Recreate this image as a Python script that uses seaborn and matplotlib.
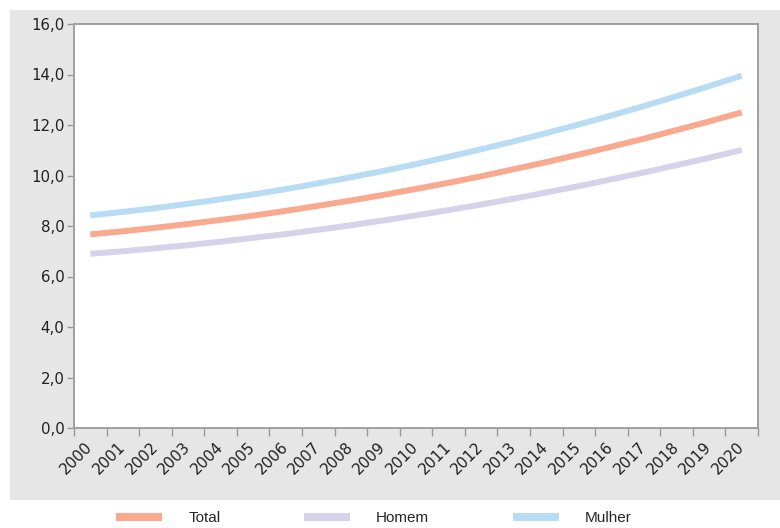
import numpy as np
import pandas as pd
import matplotlib
matplotlib.use("Agg")
import matplotlib.pyplot as plt
from matplotlib import font_manager
from matplotlib.patches import Rectangle
from matplotlib.lines import Line2D
import seaborn as sns

years = [str(y) for y in range(2000, 2021)]
total = [7.67, 7.79, 7.93, 8.08, 8.24, 8.41, 8.60, 8.80, 9.01, 9.23, 9.47,
         9.71, 9.97, 10.25, 10.53, 10.83, 11.14, 11.46, 11.80, 12.14, 12.50]
homem = [6.90, 7.00, 7.12, 7.24, 7.38, 7.53, 7.68, 7.85, 8.03, 8.22, 8.42,
         8.63, 8.85, 9.08, 9.33, 9.58, 9.85, 10.12, 10.41, 10.70, 11.01]
mulher = [8.42, 8.56, 8.71, 8.88, 9.06, 9.25, 9.46, 9.69, 9.93, 10.18, 10.45,
          10.74, 11.04, 11.35, 11.68, 12.02, 12.38, 12.75, 13.14, 13.54, 13.95]
series_names = ["Total", "Homem", "Mulher"]
colors = {"Total": "#F9A98E", "Homem": "#D6D2EA", "Mulher": "#B8DCF3"}
yticks = [0, 2, 4, 6, 8, 10, 12, 14, 16]
ytick_labels = ["0,0", "2,0", "4,0", "6,0", "8,0", "10,0", "12,0", "14,0", "16,0"]

sns.set_theme(style="white")
plt.rcParams["font.family"] = ["DejaVu Sans"]

avail = {f.name for f in font_manager.fontManager.ttflist}
legend_family = "Liberation Sans Narrow" if "Liberation Sans Narrow" in avail else "Liberation Sans"

rows = []
for name, vals in zip(series_names, [total, homem, mulher]):
    for i, v in enumerate(vals):
        rows.append({"idx": i, "ano": years[i], "valor": v, "serie": name})
df = pd.DataFrame(rows)

W, H = 780, 528
fig = plt.figure(figsize=(W / 100, H / 100), dpi=100, facecolor="white")
# gray panel
fig.patches.append(Rectangle((10 / W, 1 - 500 / H), 770 / W, 490 / H,
                             transform=fig.transFigure, facecolor="#E6E6E6",
                             edgecolor="none", zorder=-10))
ax = fig.add_axes([74 / W, 1 - 428 / H, (758 - 74) / W, (428 - 24) / H])
ax.set_zorder(5)
ax.set_facecolor("white")

sns.lineplot(data=df, x="idx", y="valor", hue="serie", hue_order=series_names,
             palette=colors, linewidth=4.3, ax=ax, legend=False,
             solid_capstyle="butt")

ax.set_xlim(-0.5, len(years) - 0.5)
ax.set_ylim(0, 16)
ax.set_yticks(yticks)
ax.set_yticklabels(ytick_labels, fontsize=10.8, color="#222222")
ax.set_xticks(range(len(years)))
ax.set_xticklabels(years, rotation=45, ha="right", va="center",
                   rotation_mode="anchor", fontsize=11, color="#222222")
ax.set_xticks(np.arange(-0.5, len(years)), minor=True)
ax.tick_params(axis="x", which="major", length=0, pad=12)
ax.tick_params(axis="x", which="minor", length=6, width=1, color="#999999",
               direction="out", bottom=True)
ax.tick_params(axis="y", which="major", length=5, width=1, color="#999999",
               direction="out", left=True, pad=2)
ax.set_xlabel("")
ax.set_ylabel("")
for s in ax.spines.values():
    s.set_color("#A0A0A0")
    s.set_linewidth(1.4)
    s.set_visible(True)
ax.grid(False)

handles = [Line2D([0], [0], color=colors[n], linewidth=5.8, solid_capstyle="butt")
           for n in series_names]
fig.legend(handles, series_names, loc="center left",
           bbox_to_anchor=(108 / W, 1 - 518 / H), ncol=3, frameon=False,
           borderpad=0, handlelength=3.05, handletextpad=1.7,
           columnspacing=5.45, prop={"family": legend_family, "size": 11})

fig.savefig("out.png", dpi=100, facecolor="white")
